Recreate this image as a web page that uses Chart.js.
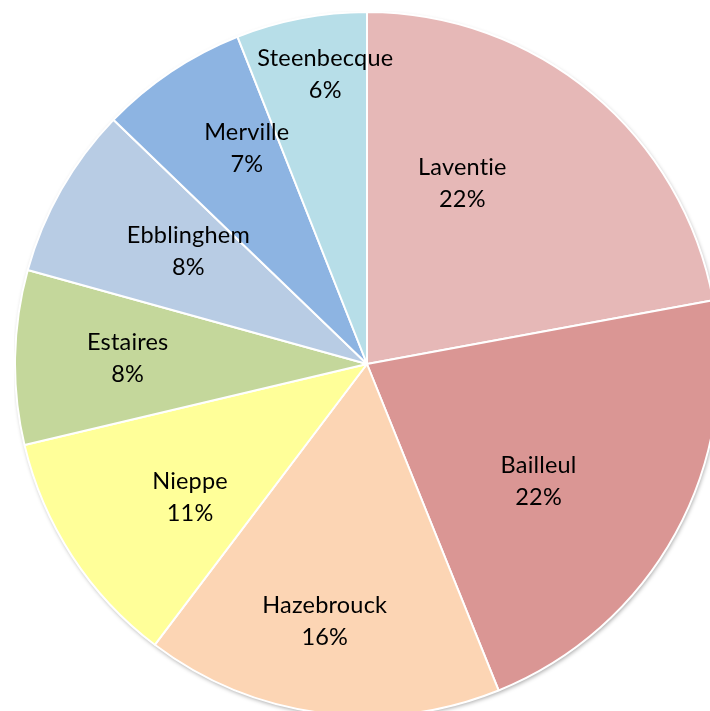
<!DOCTYPE html>
<html>
<head>
<meta charset="utf-8">
<script src="https://cdn.jsdelivr.net/npm/chart.js@4"></script>
<style>
  html, body { margin: 0; padding: 0; background: #fff; }
  #wrap { position: relative; width: 710px; height: 711px; overflow: hidden; }
  #pieChart { position: absolute; left: 14px; top: 11px; }
</style>
</head>
<body>
<div id="wrap"><canvas id="pieChart" width="706" height="706"></canvas></div>
<script>
var communes = ['Laventie', 'Bailleul', 'Hazebrouck', 'Nieppe', 'Estaires', 'Ebblinghem', 'Merville', 'Steenbecque'];
var shares = [22.1, 21.8, 16.4, 11.0, 8.0, 7.9, 6.8, 6.0];
var sliceColors = ['#E6B8B7', '#DA9694', '#FCD5B4', '#FFFF99', '#C4D79B', '#B8CCE4', '#8DB4E2', '#B7DEE8'];

// where each label sits inside its slice: [fraction of the sweep, fraction of the radius]
var labelSpots = [[0.35, 0.58], [0.57, 0.59], [0.53, 0.74], [0.40, 0.63], [0.51, 0.68], [0.59, 0.60], [0.69, 0.70], [0.62, 0.83]];

var shadowPlugin = {
    id: 'rimShadow',
    beforeDatasetsDraw: function (chart) {
        var arc = chart.getDatasetMeta(0).data[0];
        var ctx = chart.ctx;
        ctx.save();
        ctx.beginPath();
        ctx.arc(arc.x, arc.y, arc.outerRadius, 0, Math.PI * 2);
        ctx.fillStyle = '#fff';
        ctx.shadowColor = 'rgba(0,0,0,0.35)';
        ctx.shadowBlur = 4;
        ctx.shadowOffsetX = 1;
        ctx.shadowOffsetY = 2;
        ctx.fill();
        ctx.restore();
    }
};

var labelPlugin = {
    id: 'sliceLabels',
    afterDatasetsDraw: function (chart) {
        var ctx = chart.ctx;
        var arcs = chart.getDatasetMeta(0).data;
        ctx.save();
        ctx.fillStyle = '#000';
        ctx.font = '23.5px Lato';
        ctx.letterSpacing = '0.2px'; // also keeps Lato from joining "ti"
        ctx.textAlign = 'center';
        ctx.textBaseline = 'middle';
        arcs.forEach(function (arc, i) {
            var spot = labelSpots[i];
            var a = arc.startAngle + spot[0] * (arc.endAngle - arc.startAngle);
            var r = arc.outerRadius * spot[1];
            var px = arc.x + Math.cos(a) * r;
            var py = arc.y + Math.sin(a) * r;
            ctx.fillText(communes[i], px, py - 16);
            ctx.fillText(Math.round(shares[i]) + '%', px, py + 16);
        });
        ctx.restore();
    }
};

document.addEventListener('DOMContentLoaded', function () {
    var ctx = document.getElementById('pieChart').getContext('2d');
    new Chart(ctx, {
        type: 'pie',
        data: {
            labels: communes,
            datasets: [{
                data: shares,
                backgroundColor: sliceColors,
                borderColor: '#ffffff',
                borderWidth: 2
            }]
        },
        options: {
            responsive: false,
            animation: false,
            plugins: {
                legend: { display: false },
                tooltip: { enabled: false }
            }
        },
        plugins: [shadowPlugin, labelPlugin]
    });
});
</script>
</body>
</html>
